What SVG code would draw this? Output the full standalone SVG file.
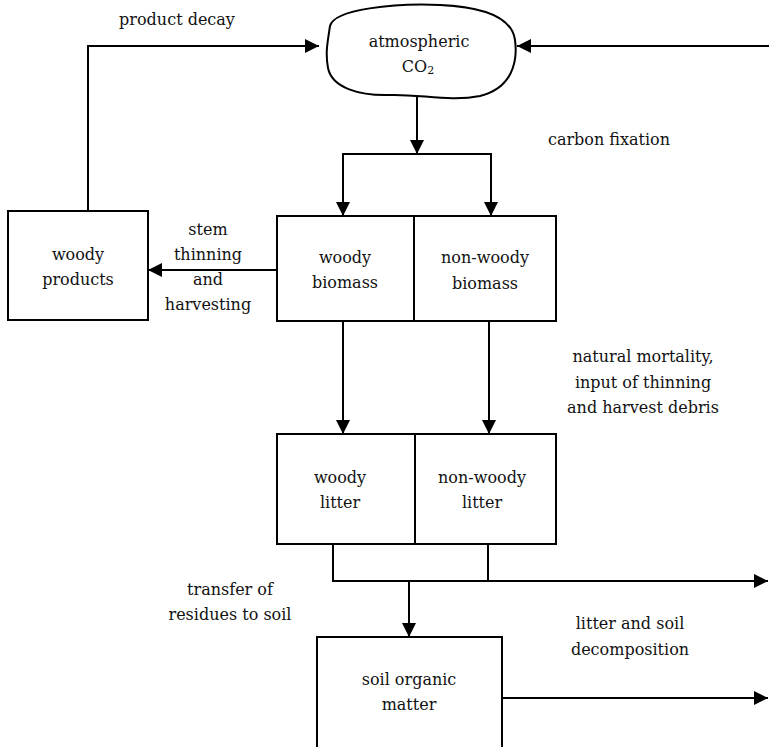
<svg xmlns="http://www.w3.org/2000/svg" width="769" height="747" viewBox="0 0 769 747">
<defs>
<marker id="ah" viewBox="0 0 14 14" refX="14" refY="7" markerWidth="14" markerHeight="14" markerUnits="userSpaceOnUse" orient="auto">
<path d="M0,0 L14,7 L0,14 Z" fill="#000"/>
</marker>
</defs>
<style>
.box{fill:#fff;stroke:#000;stroke-width:2}
.ln{fill:none;stroke:#000;stroke-width:2}
.ar{fill:none;stroke:#000;stroke-width:2;marker-end:url(#ah)}
.t{font-family:'DejaVu Serif',serif;font-size:16px;fill:#111;text-anchor:middle}
</style>
<rect width="769" height="747" fill="#fff"/>
<g id="connectors">
<polyline class="ar" points="88,211 88,46 319,46"/>
<line class="ar" x1="769" y1="46" x2="517" y2="46"/>
<line class="ar" x1="417" y1="95" x2="417" y2="154"/>
<polyline class="ln" points="343,216 343,154 491,154 491,216"/>
<line class="ar" x1="343" y1="154" x2="343" y2="216"/>
<line class="ar" x1="491" y1="154" x2="491" y2="216"/>
<line class="ar" x1="277" y1="270" x2="148" y2="270"/>
<line class="ar" x1="343" y1="321" x2="343" y2="434"/>
<line class="ar" x1="489" y1="321" x2="489" y2="434"/>
<polyline class="ln" points="333,544 333,581 488,581 488,544"/>
<line class="ar" x1="333" y1="581" x2="768" y2="581"/>
<line class="ar" x1="409" y1="581" x2="409" y2="637"/>
<line class="ar" x1="502" y1="698" x2="768" y2="698"/>
</g>
<g id="atmospheric-co2" class="t">
<path class="box" d="M330,26 C334,9 395,3 440,5 C485,7 512,18 515,40 C518,62 512,88 480,96 C450,102 420,94 390,95 C360,96 332,88 328,68 C325,52 328,40 330,26 Z"/>
<text x="419" y="47">atmospheric</text>
<text x="418" y="72">CO<tspan font-size="11" dy="2">2</tspan></text>
</g>
<g id="woody-products" class="t">
<rect class="box" x="8" y="211" width="140" height="109"/>
<text x="78" y="260">woody</text>
<text x="78" y="285">products</text>
</g>
<g id="woody-biomass" class="t">
<rect class="box" x="277" y="216" width="137" height="105"/>
<text x="345" y="263">woody</text>
<text x="345" y="288">biomass</text>
</g>
<g id="non-woody-biomass" class="t">
<rect class="box" x="414" y="216" width="142" height="105"/>
<text x="485" y="263">non-woody</text>
<text x="485" y="289">biomass</text>
</g>
<g id="woody-litter" class="t">
<rect class="box" x="277" y="434" width="138" height="110"/>
<text x="340" y="483">woody</text>
<text x="340" y="508">litter</text>
</g>
<g id="non-woody-litter" class="t">
<rect class="box" x="415" y="434" width="141" height="110"/>
<text x="482" y="483">non-woody</text>
<text x="482" y="508">litter</text>
</g>
<g id="soil-organic-matter" class="t">
<rect class="box" x="317" y="637" width="185" height="115"/>
<text x="409" y="685">soil organic</text>
<text x="409" y="710">matter</text>
</g>
<g id="labels" class="t">
<text x="177" y="25">product decay</text>
<text x="609" y="145">carbon fixation</text>
<text x="208" y="235">stem</text>
<text x="208" y="260">thinning</text>
<text x="208" y="285">and</text>
<text x="208" y="310">harvesting</text>
<text x="643" y="362">natural mortality,</text>
<text x="643" y="388">input of thinning</text>
<text x="643" y="413">and harvest debris</text>
<text x="230" y="595">transfer of</text>
<text x="230" y="620">residues to soil</text>
<text x="630" y="629">litter and soil</text>
<text x="630" y="655">decomposition</text>
</g>
</svg>
